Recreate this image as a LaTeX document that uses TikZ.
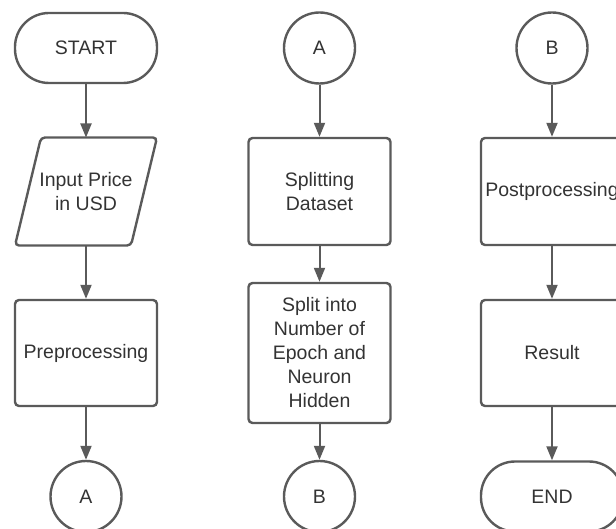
\documentclass[tikz,border=0pt]{standalone}
\usepackage{fontspec}
\setmainfont{Liberation Sans}
\usetikzlibrary{arrows.meta}
\definecolor{linegray}{HTML}{5A5A5A}
\definecolor{textgray}{HTML}{333333}
\tikzset{
  box/.style={draw=linegray, line width=2.4pt, text=textgray, align=center,
    font=\fontsize{19.5}{24}\selectfont, inner sep=2pt},
  terminal/.style={box, rectangle, rounded corners=34pt, minimum width=142pt, minimum height=70pt},
  process/.style={box, rectangle, rounded corners=4pt, minimum width=142pt},
  io/.style={box, draw=none, rectangle, minimum width=142pt, minimum height=108pt, outer sep=0pt},
  outline/.style={draw=linegray, line width=2.4pt, rounded corners=4pt},
  connector/.style={box, circle, minimum size=71pt, inner sep=0pt},
  flow/.style={draw=linegray, line width=2pt, -{Triangle[length=14pt,width=11pt]}}
}
\begin{document}
\begin{tikzpicture}[x=1pt,y=-1pt]
      \useasboundingbox (0,0) rectangle (616,529);
      \clip (0,0) rectangle (616,529);
      % first column
      \node[terminal] (start) at (86,48) {START};
      \node[io] (input) at (86,191.5) {Input Price\\in USD};
      \draw[outline] ([xshift=26pt]input.north west) -- (input.north east)
        -- ([xshift=-26pt]input.south east) -- (input.south west) -- cycle;
      \node[process, minimum height=106pt] (prep) at (86,353) {Preprocessing};
      \node[connector] (outA) at (86,496.5) {A};
      % second column
      \node[connector] (inA) at (319.5,48) {A};
      \node[process, minimum height=107pt] (split) at (319.5,191.5) {Splitting\\Dataset};
      \node[process, minimum height=140pt] (epoch) at (319.5,353) {Split into\\Number of\\Epoch and\\Neuron\\Hidden};
      \node[connector] (outB) at (319.5,496.5) {B};
      % third column
      \node[connector] (inB) at (552,48) {B};
      \node[process, minimum height=107pt] (post) at (552,191.5) {Postprocessing};
      \node[process, minimum height=106pt] (result) at (552,353) {Result};
      \node[terminal] (end) at (552,496.5) {END};
      \begin{scope}[flow]
        \draw (start) to (input);
        \draw (input) to (prep);
        \draw (prep) to (outA);
        \draw (inA) to (split);
        \draw (split) to (epoch);
        \draw (epoch) to (outB);
        \draw (inB) to (post);
        \draw (post) to (result);
        \draw (result) to (end);
      \end{scope}
    \end{tikzpicture}
\end{document}
